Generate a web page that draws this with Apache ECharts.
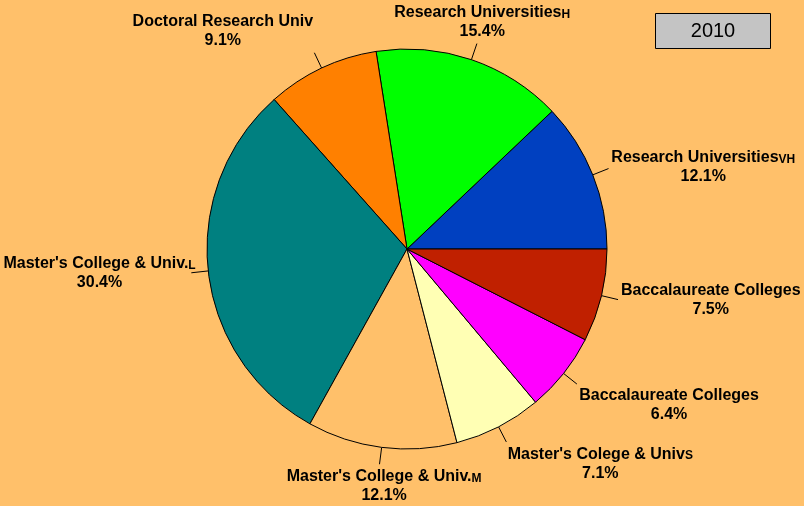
<!DOCTYPE html>
<html>
<head>
<meta charset="utf-8">
<script src="https://cdn.jsdelivr.net/npm/echarts@6/dist/echarts.min.js"></script>
<style>
  html, body { margin: 0; padding: 0; background: #FFC06A; }
  #chart { width: 804px; height: 506px; }
</style>
</head>
<body>
<div id="chart"></div>
<script>
// slices, counter-clockwise from 3 o'clock
var names = ['Research Universities', 'Research Universities', 'Doctoral Research Univ', "Master's College & Univ.",
             "Master's College & Univ.", "Master's Colege & Univ", 'Baccalaureate Colleges', 'Baccalaureate Colleges'];
var subs = ['VH', 'H', '', 'L', 'M', 'S', '', ''];
var values = [12.1, 15.4, 9.1, 30.4, 12.1, 7.1, 6.4, 7.5];
var colors = ['#0040C0', '#00FF00', '#FF8000', '#008080', '#FFC06A', '#FFFFB4', '#FF00FF', '#C02000'];
var yearLabel = '2010';

var chart = echarts.init(document.getElementById('chart'));

// width of the small suffix, so the main text stays anchored at the line end
var ctx = document.createElement('canvas').getContext('2d');
ctx.font = 'bold 12px "Liberation Sans", Arial, sans-serif';
function subWidth(i) {
    return subs[i] ? ctx.measureText(subs[i]).width : 0;
}

var data = [];
for (var i = 0; i < values.length; i++) {
    data.push({
        name: names[i] + subs[i],
        value: values[i],
        itemStyle: { color: colors[i] },
        label: {
            formatter: '{a|' + names[i] + '}' + (subs[i] ? '{b|' + subs[i] + '}' : '') + '\n{p|' + values[i].toFixed(1) + '%}'
        }
    });
}

var option = {
    backgroundColor: '#FFC06A',
    animation: false,
    graphic: [{
        type: 'group',
        left: 655,
        top: 13,
        children: [{
            type: 'rect',
            shape: { x: 0, y: 0, width: 115, height: 35 },
            style: { fill: '#C4C4C4', stroke: '#000', lineWidth: 1 }
        }, {
            type: 'text',
            x: 57.5,
            y: 18,
            style: {
                text: yearLabel,
                fill: '#000',
                font: '20px "Liberation Sans", Arial, sans-serif',
                textAlign: 'center',
                textVerticalAlign: 'middle'
            }
        }]
    }],
    series: [{
        type: 'pie',
        center: [407, 249],
        radius: 200,
        startAngle: 0,
        clockwise: false,
        avoidLabelOverlap: false,
        data: data,
        itemStyle: { borderColor: '#000', borderWidth: 1 },
        emphasis: { disabled: true },
        labelLine: { show: true, length: 17, length2: 0, lineStyle: { color: '#000', width: 1 } },
        label: {
            show: true,
            position: 'outside',
            color: '#000',
            fontFamily: '"Liberation Sans", Arial, sans-serif',
            fontWeight: 'bold',
            fontSize: 16,
            rich: {
                a: { fontSize: 16, fontWeight: 'bold', align: 'center', lineHeight: 19 },
                b: { fontSize: 12, fontWeight: 'bold', align: 'center', lineHeight: 19, padding: [4, 0, 0, 0] },
                p: { fontSize: 16, fontWeight: 'bold', align: 'center', lineHeight: 19 }
            }
        }
    }]
};

chart.setOption(option);

// place label blocks around the end of each leader line
chart.setOption({
    series: [{
        labelLayout: function (params) {
            var pts = params.labelLinePoints;
            if (!pts) return {};
            var p0 = pts[0], p1 = pts[1];
            var dx = p1[0] - p0[0], dy = p1[1] - p0[1];
            var len = Math.sqrt(dx * dx + dy * dy) || 1;
            var c = dx / len, s = -dy / len;
            var ax = p1[0] + c * 3, ay = p1[1] - s * 3;
            var align = Math.abs(c) < 0.35 ? 'center' : (c > 0 ? 'left' : 'right');
            var valign = Math.abs(s) < 0.5 ? 'middle' : (s > 0 ? 'bottom' : 'top');
            var sw = subWidth(params.dataIndex);
            if (align === 'right') ax += sw;
            else if (align === 'center') ax += sw / 2;
            return {
                x: ax, y: ay, align: align, verticalAlign: valign,
                labelLinePoints: [p0, p1, p1]
            };
        }
    }]
});
</script>
</body>
</html>
